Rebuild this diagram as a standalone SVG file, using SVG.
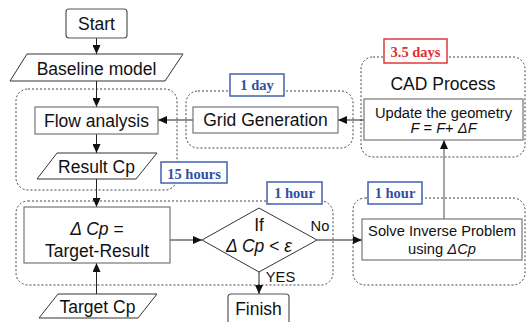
<svg xmlns="http://www.w3.org/2000/svg" width="527" height="322" viewBox="0 0 527 322">
<defs>
<marker id="ah" markerWidth="9" markerHeight="8" refX="9" refY="4" orient="auto" markerUnits="userSpaceOnUse">
<path d="M0,0 L9,4 L0,8 Z" fill="#111"/>
</marker>
<style>
.grp{fill:none;stroke:#444;stroke-width:1;stroke-dasharray:2,2}
.box{fill:#fff;stroke:#777;stroke-width:1.2}
.rbox{fill:#fff;stroke:#555;stroke-width:1.2}
.para{fill:#fff;stroke:#333;stroke-width:1}
.t{font-family:"Liberation Sans",Arial,sans-serif;font-size:17.5px;fill:#111;text-anchor:middle}
.s{font-family:"Liberation Sans",Arial,sans-serif;font-size:14.7px;fill:#111;text-anchor:middle}
.lbl{fill:#fff;stroke:#4060b0;stroke-width:1.5}
.lt{font-family:"Liberation Serif","Times New Roman",serif;font-size:14.5px;font-weight:bold;fill:#3050a0;text-anchor:middle}
.red{fill:#fff;stroke:#e03a3a;stroke-width:1.5}
.rt{font-family:"Liberation Serif","Times New Roman",serif;font-size:14.5px;font-weight:bold;fill:#e03030;text-anchor:middle}
.c{fill:none;stroke:#222;stroke-width:1}
.g{fill:none;stroke:#888;stroke-width:1.5}
</style>
</defs>

<g id="groups">
<rect id="flow-group" class="grp" x="16" y="89" width="161" height="101" rx="12"/>
<rect id="grid-group" class="grp" x="186" y="91" width="167" height="57" rx="12"/>
<rect id="cad-group" class="grp" x="361" y="57" width="164" height="100" rx="12"/>
<rect id="compare-group" class="grp" x="16" y="201" width="317" height="84" rx="12"/>
<rect id="solve-group" class="grp" x="353" y="198" width="172" height="87" rx="12"/>
</g>

<g id="connectors">
<line class="c" x1="96.5" y1="38" x2="96.5" y2="54" marker-end="url(#ah)"/>
<line class="c" x1="96.5" y1="81" x2="96.5" y2="107" marker-end="url(#ah)"/>
<line class="c" x1="96.5" y1="134" x2="96.5" y2="153" marker-end="url(#ah)"/>
<line class="c" x1="96.5" y1="179" x2="96.5" y2="207" marker-end="url(#ah)"/>
<line class="c" x1="96.5" y1="294" x2="96.5" y2="263" marker-end="url(#ah)"/>
<line class="c" x1="193" y1="120" x2="158" y2="120" marker-end="url(#ah)"/>
<line class="c" x1="364" y1="120" x2="338" y2="120" marker-end="url(#ah)"/>
<line class="c" x1="170" y1="240" x2="202" y2="240" marker-end="url(#ah)"/>
<line class="c" x1="317" y1="240" x2="362" y2="240" marker-end="url(#ah)"/>
<line class="c" x1="259" y1="272" x2="259" y2="294" marker-end="url(#ah)"/>
<line class="g" x1="444" y1="219" x2="444" y2="140" marker-end="url(#ah)"/>
</g>

<g id="start">
<rect class="rbox" x="66" y="9" width="61" height="29" rx="3"/>
<text class="t" x="96.5" y="30">Start</text>
</g>

<g id="baseline">
<polygon class="para" points="27,54 183,54 165,81 10,81"/>
<text class="t" x="96.5" y="75">Baseline model</text>
</g>

<g id="flow-analysis">
<rect class="box" x="35" y="107" width="123" height="27"/>
<text class="t" x="96.5" y="126.5">Flow analysis</text>
</g>

<g id="result-cp">
<polygon class="para" points="57,153 157,153 136,179 37,179"/>
<text class="t" x="96.5" y="173">Result Cp</text>
</g>

<g id="label-15h">
<rect class="lbl" x="161" y="162" width="66" height="21"/>
<text class="lt" x="194" y="178.5">15 hours</text>
</g>

<g id="grid-generation">
<rect class="box" x="193" y="107" width="145" height="26"/>
<text class="t" x="265.5" y="126">Grid Generation</text>
</g>

<g id="label-1day">
<rect class="lbl" x="230" y="74" width="54" height="22"/>
<text class="lt" x="257" y="90">1 day</text>
</g>

<g id="cad">
<rect class="red" x="384" y="39" width="63" height="24"/>
<text class="rt" x="415.5" y="56.5">3.5 days</text>
<text class="t" x="443" y="90">CAD Process</text>
</g>

<g id="update">
<rect class="box" x="364" y="99" width="159" height="41"/>
<text class="s" x="443.5" y="117.5">Update the geometry</text>
<text class="s" x="443.5" y="133"><tspan font-style="italic">F</tspan> = <tspan font-style="italic">F</tspan>+ <tspan font-style="italic">ΔF</tspan></text>
</g>

<g id="delta-cp">
<rect class="box" x="24" y="207" width="146" height="56"/>
<text class="t" x="97" y="235"><tspan font-style="italic">Δ Cp</tspan> =</text>
<text class="t" x="97" y="256.5">Target-Result</text>
</g>

<g id="label-1h-a">
<rect class="lbl" x="267" y="182" width="55" height="22"/>
<text class="lt" x="294.5" y="198">1 hour</text>
</g>

<g id="decision">
<polygon class="para" points="202,240 259,208 317,240 259,272"/>
<text class="t" x="259" y="231">If</text>
<text class="t" x="259" y="251.5"><tspan font-style="italic">Δ Cp</tspan> &lt; <tspan font-style="italic">ε</tspan></text>
<text class="s" x="320" y="231">No</text>
<text class="s" x="280.5" y="281.5">YES</text>
</g>

<g id="finish">
<rect class="rbox" x="228" y="294" width="61" height="34" rx="3"/>
<text class="t" x="258.5" y="315">Finish</text>
</g>

<g id="target-cp">
<polygon class="para" points="58,294 157,294 138,318 39,318"/>
<text class="t" x="97.5" y="313">Target Cp</text>
</g>

<g id="label-1h-b">
<rect class="lbl" x="368" y="182" width="54" height="22"/>
<text class="lt" x="395" y="198">1 hour</text>
</g>

<g id="solve">
<rect class="box" x="362" y="219" width="160" height="41"/>
<text class="s" x="442" y="236">Solve Inverse Problem</text>
<text class="s" x="442" y="254">using <tspan font-style="italic">ΔCp</tspan></text>
</g>
</svg>
